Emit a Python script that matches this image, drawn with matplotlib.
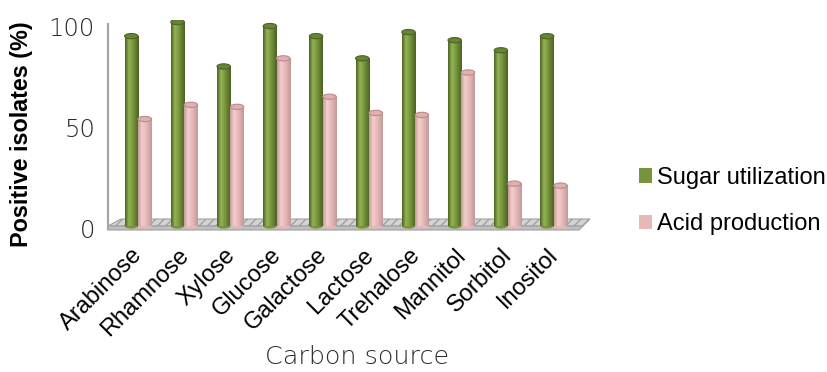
import numpy as np
import matplotlib
matplotlib.use("Agg")
import matplotlib.pyplot as plt
from matplotlib.patches import Ellipse, Polygon, Patch
from matplotlib.colors import LinearSegmentedColormap
from matplotlib.transforms import ScaledTranslation

# ---- data -------------------------------------------------------------
categories = ["Arabinose", "Rhamnose", "Xylose", "Glucose", "Galactose",
              "Lactose", "Trehalose", "Mannitol", "Sorbitol", "Inositol"]
sugar_utilization = [93, 100, 78, 98, 93, 82, 95, 91, 86, 93]
acid_production = [52, 59, 58, 82, 63, 55, 54, 75, 20, 19]
series_names = ["Sugar utilization", "Acid production"]
y_ticks = [0, 50, 100]

# ---- style ------------------------------------------------------------
green = dict(mid="#77933C", dark="#4A6222", light="#93B454",
             top="#66862F", rim="#4F6228")
pink = dict(mid="#E6B9B8", dark="#C39A99", light="#F4CDCD",
            top="#E2B0AF", rim="#B98C8B")
thin_font = dict(family="DejaVu Sans", fontweight=200, color="#2B2B2B")
arial = "Liberation Sans"
matplotlib.rcParams["hatch.color"] = "#F2F2F2"

fig = plt.figure(figsize=(8.27, 3.72), dpi=100)
W, H = 827, 372
ax = fig.add_axes([100 / W, 1 - 240 / H, 500 / W, 220 / H])

# pixel -> data helpers for the decorative 3-D frame
PX0, PXS = 138.0, 46.2
PY0, PYS = 224.0, 2.02
def dx(px):
    return (px - PX0) / PXS
def dy(py):
    return (PY0 - py) / PYS

bar_w = 0.29
offset = 0.145
base = dy(226)
ell_h = 2.6


def cylinder(ax, xc, value, c):
    x0, x1 = xc - bar_w / 2, xc + bar_w / 2
    cmap = LinearSegmentedColormap.from_list(
        "cyl", [(0.0, c["dark"]), (0.28, c["light"]), (0.6, c["mid"]), (1.0, c["dark"])])
    grad = cmap(np.linspace(0, 1, 64))[None, :, :3]
    ax.add_patch(Ellipse((xc, base), bar_w, ell_h, facecolor=c["mid"],
                         edgecolor="none", zorder=3))
    ax.imshow(grad, extent=(x0, x1, base, value), aspect="auto",
              interpolation="bilinear", zorder=3.1)
    ax.add_patch(Ellipse((xc, value), bar_w, ell_h, facecolor=c["top"],
                         edgecolor=c["rim"], linewidth=0.8, zorder=3.2))


x = np.arange(len(categories))

# floor slab and side wall line
floor_top = Polygon([(dx(108), dy(226)), (dx(121), dy(219)), (dx(590), dy(219)),
                     (dx(583), dy(226))], closed=True, facecolor="#D4D4D4",
                    edgecolor="#A0A0A0", linewidth=0.8, hatch="////", zorder=1)
floor_front = Polygon([(dx(108), dy(226)), (dx(583), dy(226)), (dx(579), dy(230)),
                       (dx(108), dy(230))], closed=True, facecolor="#BFBFBF",
                      edgecolor="#A0A0A0", linewidth=0.8, zorder=1)
ax.add_patch(floor_top)
ax.add_patch(floor_front)
ax.plot([dx(108), dx(108)], [dy(23), dy(230)], color="#A6A6A6", lw=1.6,
        solid_capstyle="butt", zorder=1.5)

for xi, s, a in zip(x, sugar_utilization, acid_production):
    cylinder(ax, xi - offset, s, green)
    cylinder(ax, xi + offset, a, pink)

ax.set_xlim(dx(100), dx(600))
ax.set_ylim(dy(240), dy(20))
for sp in ax.spines.values():
    sp.set_visible(False)

# axes ticks and labels
ax.set_yticks(y_ticks)
ax.set_yticklabels([str(t) for t in y_ticks], fontsize=17.5, **thin_font)
ax.tick_params(axis="y", length=0, pad=3.6)
yshift = ScaledTranslation(0, -4.5 / 100, fig.dpi_scale_trans)
for lab in ax.get_yticklabels():
    lab.set_transform(lab.get_transform() + yshift)

ax.set_xticks(x)
ax.set_xticklabels(categories, rotation=45, ha="right", va="top",
                   fontsize=17, family=arial, color="black")
ax.tick_params(axis="x", length=0, pad=3)
xshift = ScaledTranslation(9 / 100, 0, fig.dpi_scale_trans)
for lab in ax.get_xticklabels():
    lab.set_transform(lab.get_transform() + xshift)

ax.set_ylabel("Positive isolates (%)", fontsize=16.8, family=arial,
              fontweight="bold", color="black")
ax.yaxis.set_label_coords((22 - 100) / 500, (240 - 134) / 220)
ax.yaxis.label.set_va("center")
ax.set_xlabel("Carbon source", fontsize=18.3, **thin_font)
ax.xaxis.set_label_coords((357 - 100) / 500, (240 - 357) / 220)
ax.xaxis.label.set_va("center")

handles = [Patch(facecolor=green["mid"], edgecolor="none"),
           Patch(facecolor=pink["mid"], edgecolor="none")]
fig.legend(handles, series_names, loc="center left",
           bbox_to_anchor=(639 / W, 1 - 201 / H), frameon=False,
           prop=dict(family=arial, size=17), handlelength=0.55,
           handleheight=0.55, handletextpad=0.2, labelspacing=1.02,
           borderpad=0, borderaxespad=0)

fig.savefig("out.png", dpi=100, facecolor="white")
